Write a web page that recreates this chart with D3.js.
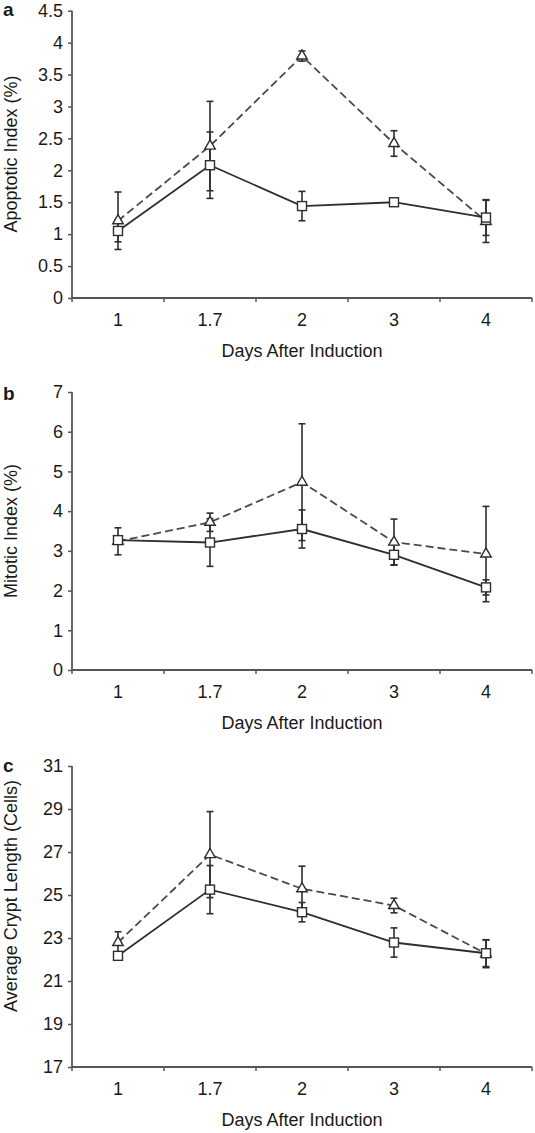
<!DOCTYPE html>
<html>
<head>
<meta charset="utf-8">
<script src="https://cdn.jsdelivr.net/npm/d3@7"></script>
<style>
  html, body { margin: 0; padding: 0; background: #fff; }
  svg { display: block; }
  text { font-family: "Liberation Sans", Arial, Helvetica, sans-serif; fill: #1a1a1a; }
</style>
</head>
<body>
<svg id="chart" width="535" height="1133"></svg>
<script>
// ---- data ----
const days = ["1", "1.7", "2", "3", "4"];

const apoptoticSquare    = [1.05, 2.08, 1.44, 1.50, 1.26];
const apoptoticSquareErr = [0.17, 0.52, 0.23, 0.03, 0.28];
const apoptoticTriangle    = [1.21, 2.38, 3.79, 2.42, 1.20];
const apoptoticTriangleErr = [0.45, 0.70, 0.08, 0.20, 0.33];
const apoptoticTicks = [0, 0.5, 1, 1.5, 2, 2.5, 3, 3.5, 4, 4.5];

const mitoticSquare    = [3.27, 3.21, 3.55, 2.90, 2.08];
const mitoticSquareErr = [0.08, 0.60, 0.48, 0.25, 0.19];
const mitoticTriangle    = [3.24, 3.72, 4.73, 3.22, 2.92];
const mitoticTriangleErr = [0.34, 0.23, 1.47, 0.58, 1.20];
const mitoticTicks = [0, 1, 2, 3, 4, 5, 6, 7];

const cryptSquare    = [22.17, 25.25, 24.20, 22.79, 22.29];
const cryptSquareErr = [0.10, 1.12, 0.45, 0.68, 0.62];
const cryptTriangle    = [22.79, 26.88, 25.29, 24.51, 22.27];
const cryptTriangleErr = [0.50, 2.00, 1.05, 0.34, 0.65];
const cryptTicks = [17, 19, 21, 23, 25, 27, 29, 31];

const xTitle = "Days After Induction";

// ---- layout ----
const svg = d3.select("#chart");
svg.append("rect").attr("width", 535).attr("height", 1133).attr("fill", "#fff");

const x = d3.scaleBand().domain(days).range([72, 532]).paddingInner(0).paddingOuter(0);

const panels = [
  { letter: "a", title: "Apoptotic Index (%)", ticks: apoptoticTicks,
    sq: apoptoticSquare, sqErr: apoptoticSquareErr, tri: apoptoticTriangle, triErr: apoptoticTriangleErr,
    top: 10.7, bottom: 298, titleY: 154, letterY: 16 },
  { letter: "b", title: "Mitotic Index (%)", ticks: mitoticTicks,
    sq: mitoticSquare, sqErr: mitoticSquareErr, tri: mitoticTriangle, triErr: mitoticTriangleErr,
    top: 392, bottom: 670, titleY: 531, letterY: 400 },
  { letter: "c", title: "Average Crypt Length (Cells)", ticks: cryptTicks,
    sq: cryptSquare, sqErr: cryptSquareErr, tri: cryptTriangle, triErr: cryptTriangleErr,
    top: 766, bottom: 1067, titleY: 896, letterY: 772 }
];

const axisColor = "#555";
const lineColor = "#2e2e2e";

panels.forEach(p => {
  const g = svg.append("g");
  const ext = d3.extent(p.ticks);
  const y = d3.scaleLinear().domain(ext).range([p.bottom, p.top]);

  // y axis
  const yAxis = d3.axisLeft(y).tickValues(p.ticks).tickFormat(d => String(d)).tickSize(4).tickPadding(5);
  const ya = g.append("g").attr("transform", `translate(${x.range()[0]},0)`).call(yAxis);
  ya.select(".domain").attr("stroke", axisColor).attr("stroke-width", 1.8).attr("d", `M0,${p.top}V${p.bottom}`);
  ya.selectAll(".tick line").attr("stroke", axisColor).attr("stroke-width", 1.5);
  ya.selectAll(".tick text").attr("font-size", 18).attr("fill", "#1a1a1a")
    .attr("font-family", '"Liberation Sans", Arial, sans-serif');

  // x axis (ticks at category boundaries)
  const bounds = days.map(d => x(d)).concat([x.range()[1]]);
  const xa = g.append("g").attr("transform", `translate(0,${p.bottom})`);
  xa.append("path").attr("d", `M${x.range()[0]},0H${x.range()[1]}`)
    .attr("stroke", axisColor).attr("stroke-width", 1.8).attr("fill", "none");
  xa.selectAll("line.xt").data(bounds).join("line").attr("class", "xt")
    .attr("x1", d => d).attr("x2", d => d).attr("y1", 0).attr("y2", 4)
    .attr("stroke", axisColor).attr("stroke-width", 1.5);
  xa.selectAll("text.xl").data(days).join("text").attr("class", "xl")
    .attr("x", d => x(d) + x.bandwidth() / 2).attr("y", 28)
    .attr("text-anchor", "middle").attr("font-size", 18).text(d => d);
  xa.append("text").attr("x", (x.range()[0] + x.range()[1]) / 2).attr("y", 59)
    .attr("text-anchor", "middle").attr("font-size", 18).text(xTitle);

  // y title
  g.append("text").attr("transform", `translate(11,${p.titleY}) rotate(-90)`)
    .attr("text-anchor", "middle").attr("dominant-baseline", "central")
    .attr("font-size", 18).text(p.title);

  // panel letter
  g.append("text").attr("x", 3).attr("y", p.letterY).attr("font-size", 19)
    .attr("font-weight", "bold").text(p.letter);

  const cx = d => x(d) + x.bandwidth() / 2;

  // lines
  const line = d3.line().x((v, i) => cx(days[i])).y(v => y(v));
  g.append("path").datum(p.tri).attr("d", line).attr("fill", "none")
    .attr("stroke", "#4a4a4a").attr("stroke-width", 1.8).attr("stroke-dasharray", "8,4");
  g.append("path").datum(p.sq).attr("d", line).attr("fill", "none")
    .attr("stroke", lineColor).attr("stroke-width", 1.8);

  // error bars
  const drawErr = (vals, errs, cls) => {
    const eg = g.append("g").attr("class", cls);
    vals.forEach((v, i) => {
      const xc = cx(days[i]);
      const lo = y(v - errs[i]), hi = y(v + errs[i]);
      eg.append("line").attr("x1", xc).attr("x2", xc).attr("y1", lo).attr("y2", hi)
        .attr("stroke", lineColor).attr("stroke-width", 1.6);
      [lo, hi].forEach(yy => eg.append("line").attr("x1", xc - 3.5).attr("x2", xc + 3.5)
        .attr("y1", yy).attr("y2", yy).attr("stroke", lineColor).attr("stroke-width", 1.6));
    });
  };
  drawErr(p.tri, p.triErr, "err-tri");
  drawErr(p.sq, p.sqErr, "err-sq");

  // markers
  const triPath = d3.symbol().type(d3.symbolTriangle).size(48);
  g.selectAll("path.tri").data(p.tri).join("path").attr("class", "tri")
    .attr("d", triPath).attr("transform", (v, i) => `translate(${cx(days[i])},${y(v)})`)
    .attr("fill", "#fff").attr("stroke", lineColor).attr("stroke-width", 1.4);
  g.selectAll("rect.sq").data(p.sq).join("rect").attr("class", "sq")
    .attr("x", (v, i) => cx(days[i]) - 4.5).attr("y", v => y(v) - 4.5)
    .attr("width", 9).attr("height", 9)
    .attr("fill", "#fff").attr("stroke", lineColor).attr("stroke-width", 1.4);
});
</script>
</body>
</html>
